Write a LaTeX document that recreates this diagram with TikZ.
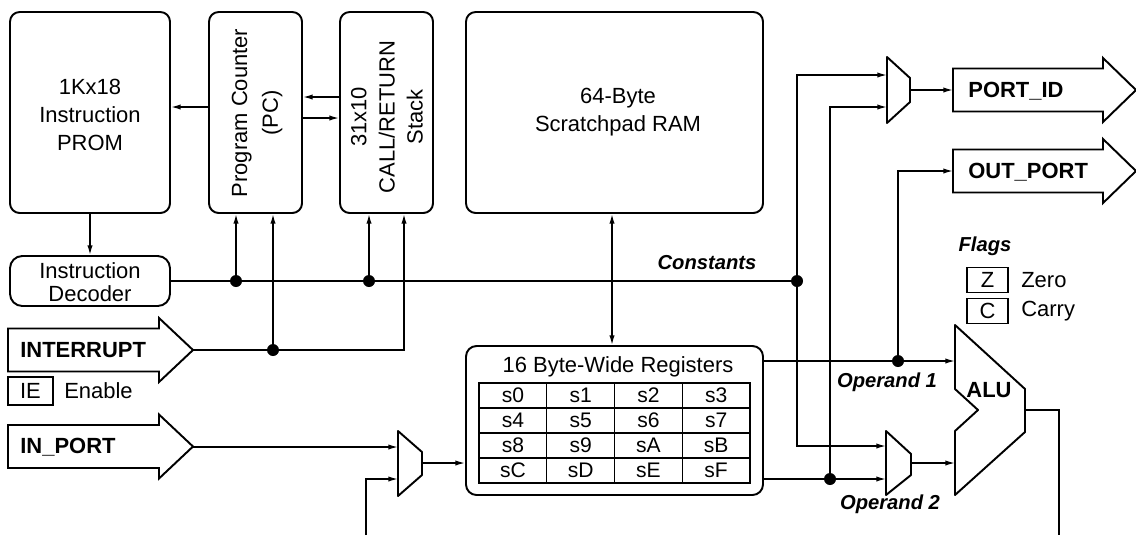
\documentclass[tikz,border=0pt]{standalone}
\usepackage{fontspec}
\setmainfont{Liberation Sans}
\usetikzlibrary{arrows.meta,positioning,fit}

\tikzset{
  blk/.style={draw, line width=1.1pt, rounded corners=5.5pt, inner sep=0pt},
  wire/.style={line width=0.8pt},
  mux/.style={draw, line width=1.1pt, line join=round},
  port/.style={draw, line width=1.1pt},
  dot/.style={circle, fill, inner sep=0pt, minimum size=0.24cm},
  lbl/.style={font=\fontsize{12.5}{16}\selectfont, align=center, inner sep=0pt},
  plbl/.style={font=\fontsize{12.5}{15}\selectfont\bfseries, anchor=west, inner sep=0pt},
  buslbl/.style={font=\fontsize{11.5}{14}\selectfont\bfseries\itshape, inner sep=0pt},
  flagbox/.style={draw, line width=1.1pt, minimum width=0.82cm, minimum height=0.5cm,
    inner sep=0pt, font=\fontsize{12.5}{15}\selectfont},
  cell/.style={draw, line width=0.8pt, minimum width=1.355cm, minimum height=0.5cm,
    inner sep=0pt, font=\fontsize{12}{14}\selectfont},
}

\begin{document}
\begin{tikzpicture}[x=0.02cm, y=-0.02cm, >={Latex[length=5.5pt,width=3pt]}]
\useasboundingbox (0,0) rectangle (1136,535);

% memories and control
\node[blk, fit={(10,12) (170,213)}] (prom) {};
\node[lbl] (promtxt) at (90,115) {1Kx18\\Instruction\\PROM};
\node[blk, fit={(209,12) (302,213)}] (pc) {};
\node[lbl, rotate=90, font=\fontsize{12.5}{17.5}\selectfont] (pctxt) at (257,113) {Program Counter\\(PC)};
\node[blk, fit={(340,12) (433,213)}] (stack) {};
\node[lbl, rotate=90] (stacktxt) at (387,117) {31x10\\CALL/RETURN\\Stack};
\node[blk, fit={(466,12) (763,213)}] (ram) {};
\node[lbl] (ramtxt) at (618,112) {64-Byte\\Scratchpad RAM};
\node[blk, rounded corners=7pt, fit={(10,256) (170,306)}] (dec) {};
\node[lbl, font=\fontsize{12.5}{13}\selectfont] (dectxt) at (90,282) {Instruction\\Decoder};

% register file
\node[blk, rounded corners=6pt, fit={(466,346) (763,495)}] (regs) {};
\node[lbl] (regstxt) at (618,367) {16 Byte-Wide Registers};
\foreach \t [count=\i from 0] in {0,1,2,3,4,5,6,7,8,9,A,B,C,D,E,F}
  \node[cell] (r\i) at ({512.9+67.75*mod(\i,4)}, {395.5+25*int(\i/4)}) {s\t};

% port arrows
\draw[port] (8,328.5) -- ++(151,0) -- ++(0,-10.5) -- ++(34,32) -- ++(-34,32) -- ++(0,-10.5) -- ++(-151,0) -- cycle;
\node[plbl] (intrtxt) at (20,350) {INTERRUPT};
\coordinate (intr) at (193,350);
\draw[port] (8,425) -- ++(151,0) -- ++(0,-10.5) -- ++(34,32) -- ++(-34,32) -- ++(0,-10.5) -- ++(-151,0) -- cycle;
\node[plbl] (inptxt) at (20,447) {IN\_PORT};
\coordinate (inp) at (193,447);
\draw[port] (953,68.5) -- ++(150,0) -- ++(0,-10.5) -- ++(33,32) -- ++(-33,32) -- ++(0,-10.5) -- ++(-150,0) -- cycle;
\node[plbl] (pidtxt) at (968,91) {PORT\_ID};
\coordinate (portid) at (953,90);
\draw[port] (953,149.5) -- ++(150,0) -- ++(0,-10.5) -- ++(33,32) -- ++(-33,32) -- ++(0,-10.5) -- ++(-150,0) -- cycle;
\node[plbl] (outtxt) at (968,172) {OUT\_PORT};
\coordinate (outp) at (953,171);

% interrupt enable and flags
\node[flagbox, minimum width=0.9cm, minimum height=0.56cm] (ie) at (30.5,391) {IE};
\node[lbl, right=0.2cm of ie] (ietxt) {Enable};
\node[buslbl, font=\fontsize{11.5}{14}\selectfont\bfseries\itshape] (flags) at (985,246) {Flags};
\node[flagbox] (zf) at (987.5,280) {Z};
\node[lbl, right=0.24cm of zf] (zftxt) {Zero};
\node[flagbox] (cf) at (987.5,311) {C};
\node[lbl, right=0.24cm of cf] (cftxt) {Carry};

% multiplexers and ALU
\draw[mux] (398,431) -- (422,452) -- (422,475) -- (398,496) -- cycle;
\coordinate (mx1a) at (398,447);
\coordinate (mx1b) at (398,479);
\coordinate (mx1o) at (422,463);
\draw[mux] (887,57) -- (910,78) -- (910,102) -- (887,123) -- cycle;
\coordinate (mx2a) at (887,75);
\coordinate (mx2b) at (887,107);
\coordinate (mx2o) at (910,90);
\draw[mux] (886,431) -- (911,454) -- (911,475) -- (886,495) -- cycle;
\coordinate (mx3a) at (886,446);
\coordinate (mx3b) at (886,479);
\coordinate (mx3o) at (911,463);
\draw[mux] (955,325) -- (1025,389) -- (1025,432) -- (955,495) -- (955,431) -- (978,410) -- (955,389) -- cycle;
\node[plbl, anchor=center] (alutxt) at (989,390) {ALU};
\coordinate (alu1) at (955,361);
\coordinate (alu2) at (955,463);
\coordinate (aluo) at (1025,410);
\coordinate (fb1) at (366,535);
\coordinate (fb2) at (1059,535);

% junctions
\node[dot] (jd1) at (236,281) {};
\node[dot] (jd2) at (369,281) {};
\node[dot] (jd3) at (797,281) {};
\node[dot] (jd4) at (273,350) {};
\node[dot] (jd5) at (898,361) {};
\node[dot] (jd6) at (830,479) {};

% connections
\draw[wire, ->] (pc.west |- 0,107) -- (prom.east |- 0,107);
\draw[wire, ->] (stack.west |- 0,97) -- (pc.east |- 0,97);
\draw[wire, ->] (pc.east |- 0,118) -- (stack.west |- 0,118);
\draw[wire, ->] (prom.south) -- (dec.north);
\draw[wire] (dec.east) -- (jd3);
\node[buslbl, above=0.1cm of jd3, xshift=-1.8cm] (consttxt) {Constants};
\draw[wire, ->] (jd1) -- (jd1 |- pc.south);
\draw[wire, ->] (jd2) -- (jd2 |- stack.south);
\draw[wire, ->] (intr) -| (stack.south -| 404,0);
\draw[wire, ->] (jd4) -- (jd4 |- pc.south);
\draw[wire, <->] (ram.south -| 612,0) -- (regs.north -| 612,0);
\draw[wire, ->] (inp) -- (mx1a);
\draw[wire, ->] (fb1) |- (mx1b);
\draw[wire, ->] (mx1o) -- (mx1o -| regs.west);
\draw[wire, ->] (jd3) |- (mx2a);
\draw[wire, ->] (jd3) |- (mx3a);
\draw[wire, ->] (jd6) |- (mx2b);
\draw[wire, ->] (mx2o) -- (portid);
\draw[wire, ->] (regs.east |- 0,361) -- (alu1);
\draw[wire, ->] (jd5) |- (outp);
\draw[wire, ->] (regs.east |- 0,479) -- (mx3b);
\draw[wire, ->] (mx3o) -- (alu2);
\draw[wire] (aluo) -| (fb2);
\node[buslbl] (op1txt) at (887,382) {Operand 1};
\node[buslbl] (op2txt) at (890,504) {Operand 2};
\end{tikzpicture}
\end{document}
